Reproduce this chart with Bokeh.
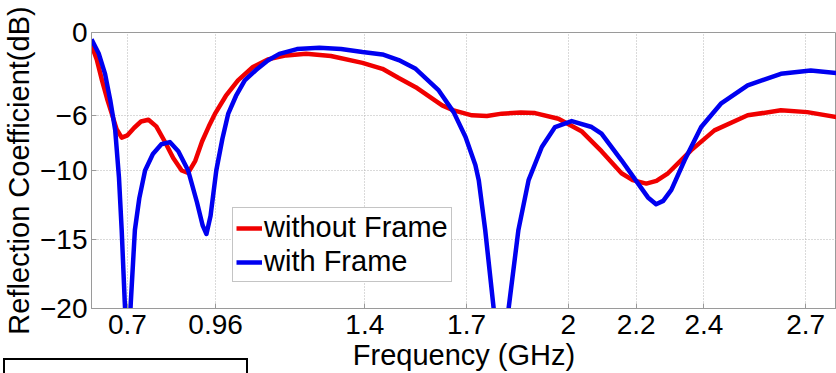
from bokeh.plotting import figure
from bokeh.models import FixedTicker, Range1d, Legend, LegendItem, Div
from bokeh.layouts import column
from bokeh.embed import file_html
from bokeh.resources import INLINE

# ---- data ----
freq_without = [0.594, 0.610, 0.625, 0.640, 0.654, 0.668, 0.683, 0.700, 0.720, 0.740,
                0.762, 0.785, 0.810, 0.835, 0.860, 0.879, 0.900, 0.920, 0.940, 0.958,
                0.990, 1.026, 1.070, 1.114, 1.168, 1.227, 1.300, 1.393, 1.452, 1.500,
                1.550, 1.628, 1.662, 1.716, 1.760, 1.804, 1.860, 1.902, 1.971, 2.039,
                2.098, 2.157, 2.190, 2.230, 2.260, 2.294, 2.362, 2.431, 2.529, 2.627,
                2.705, 2.791]
s11_without = [-0.9, -2.0, -3.47, -4.8, -5.9, -7.0, -7.62, -7.45, -6.9, -6.45,
               -6.32, -6.8, -7.9, -9.1, -10.0, -10.18, -9.3, -7.9, -6.8, -5.9,
               -4.6, -3.47, -2.5, -1.95, -1.66, -1.54, -1.7, -2.2, -2.63, -3.3,
               -3.96, -5.28, -5.64, -6.0, -6.05, -5.88, -5.8, -5.84, -6.25, -7.15,
               -8.6, -10.2, -10.7, -10.95, -10.75, -10.2, -8.54, -7.09, -6.0, -5.64,
               -5.77, -6.13]

freq_with = [0.594, 0.615, 0.634, 0.650, 0.664, 0.675, 0.683, 0.692, 0.701, 0.710,
             0.722, 0.735, 0.752, 0.775, 0.800, 0.825, 0.850, 0.879, 0.905, 0.922,
             0.933, 0.945, 0.962, 0.980, 0.997, 1.020, 1.046, 1.080, 1.114, 1.148,
             1.200, 1.266, 1.330, 1.393, 1.452, 1.500, 1.550, 1.618, 1.662, 1.697,
             1.726, 1.736, 1.755, 1.780, 1.802, 1.824, 1.853, 1.883, 1.922, 1.961,
             2.010, 2.069, 2.098, 2.157, 2.206, 2.235, 2.259, 2.280, 2.304, 2.343,
             2.392, 2.450, 2.529, 2.627, 2.715, 2.791]
s11_with = [-0.5, -1.5, -3.0, -5.0, -7.1, -10.5, -14.3, -19.5, -24.0, -19.5,
            -14.3, -12.0, -10.0, -8.8, -8.1, -7.94, -8.6, -10.0, -12.3, -14.0,
            -14.6, -13.3, -10.0, -7.7, -5.9, -4.6, -3.47, -2.7, -2.03, -1.55,
            -1.2, -1.11, -1.2, -1.42, -1.59, -2.0, -2.63, -4.2, -5.77, -7.57,
            -9.6, -10.7, -14.3, -20.0, -25.0, -20.0, -14.3, -10.7, -8.3, -6.85,
            -6.42, -6.85, -7.33, -9.26, -10.95, -11.95, -12.45, -12.2, -11.4, -9.26,
            -6.85, -5.16, -3.83, -2.99, -2.75, -2.94]

x_ticks = [0.7, 0.96, 1.4, 1.7, 2, 2.2, 2.4, 2.7]
x_tick_labels = ["0.7", "0.96", "1.4", "1.7", "2", "2.2", "2.4", "2.7"]
y_ticks = [0, -6, -10, -15, -20]
series_names = ["without Frame", "with Frame"]

FONT = "Liberation Sans"

p = figure(width=836, height=373, output_backend="svg", toolbar_location=None,
           x_range=Range1d(0.594, 2.791), y_range=Range1d(-20, 0),
           min_border_left=88, min_border_top=32, min_border_right=0,
           min_border_bottom=65)
p.background_fill_color = "white"
p.border_fill_color = "white"
p.outline_line_color = "#9a9a9a"
p.outline_line_width = 1

r1 = p.line(freq_without, s11_without, line_color="#f00000", line_width=4.5,
            line_join="round")
r2 = p.line(freq_with, s11_with, line_color="#0000f0", line_width=4.5,
            line_join="round")

# axes
for ax in (p.xaxis[0], p.yaxis[0]):
    ax.axis_line_color = "#9a9a9a"
    ax.major_tick_line_color = "#9a9a9a"
    ax.major_tick_in = 5
    ax.major_tick_out = 0
    ax.minor_tick_line_color = None
    ax.major_label_text_font = FONT
    ax.major_label_text_font_size = "28px"
    ax.major_label_text_color = "black"
    ax.axis_label_text_font = FONT
    ax.axis_label_text_font_size = "29px"
    ax.axis_label_text_font_style = "normal"
    ax.axis_label_text_color = "black"

p.xaxis.ticker = FixedTicker(ticks=x_ticks)
p.xaxis.major_label_overrides = dict(zip(x_ticks, x_tick_labels))
p.xaxis.major_label_standoff = 6
p.xaxis.axis_label = "Frequency (GHz)"
p.xaxis.axis_label_standoff = 2

p.yaxis.ticker = FixedTicker(ticks=y_ticks)
p.yaxis.major_label_standoff = 4
p.yaxis.axis_label = "Reflection Coefficient(dB)"
p.yaxis.axis_label_standoff = 2

# grid
for g in (p.xgrid[0], p.ygrid[0]):
    g.grid_line_color = "#b4b4b4"
    g.grid_line_dash = "1 2"
    g.grid_line_width = 1
p.xgrid.ticker = FixedTicker(ticks=x_ticks)
p.ygrid.ticker = FixedTicker(ticks=y_ticks)

legend = Legend(items=[LegendItem(label=series_names[0], renderers=[r1]),
                       LegendItem(label=series_names[1], renderers=[r2])],
                location=(141, 26), margin=0, padding=3, spacing=1,
                glyph_width=26, glyph_height=30, label_standoff=2,
                label_text_font=FONT, label_text_font_size="29px",
                label_text_color="black",
                border_line_color="#8a8a8a", border_line_width=1,
                background_fill_color="white", background_fill_alpha=1.0)
p.add_layout(legend)

# empty framed box cut by the bottom-left edge of the picture
box = Div(text="", width=245, height=15,
          styles={"margin-top": "-15px", "margin-left": "3px",
                  "border-top": "2px solid black", "border-left": "2px solid black",
                  "border-right": "2px solid black", "box-sizing": "border-box",
                  "background": "white"})

layout = column(p, box, spacing=0)
open("out.html", "w").write(file_html(layout, INLINE))
